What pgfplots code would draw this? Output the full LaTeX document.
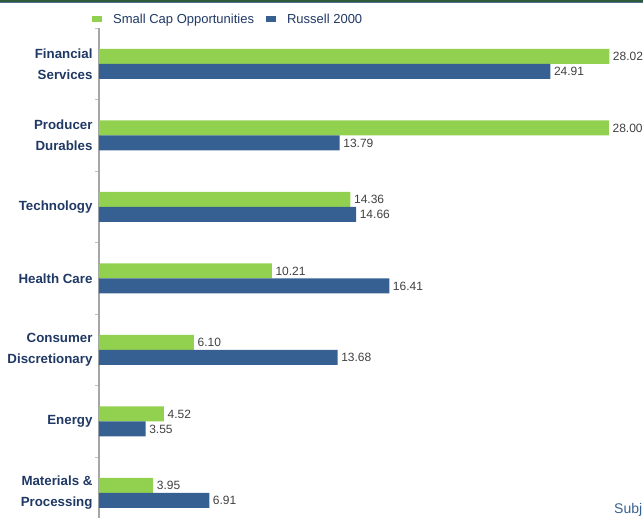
\documentclass[border=0pt]{standalone}
\usepackage{pgfplots}
\pgfplotsset{compat=1.18}
\usepackage{fontspec}
\setmainfont{Liberation Sans}
\definecolor{cgreen}{HTML}{92D050}
\definecolor{cblue}{HTML}{366092}
\definecolor{clab}{HTML}{1F3864}
\definecolor{cval}{HTML}{404040}
\definecolor{cborder}{HTML}{2E5A3C}
\definecolor{cborder2}{HTML}{4F6F8F}
\begin{document}
\begin{tikzpicture}[x=1pt,y=1pt]
\useasboundingbox (0,0) rectangle (643,-518);
\clip (0,0) rectangle (643,-518);
\fill[cborder] (0,0) rectangle (643,-2);
\fill[cborder2] (0,-2) rectangle (643,-3);
\begin{axis}[
  at={(99pt,-28.25pt)}, anchor=north west,
  scale only axis,
  width=544pt, height=500.5pt,
  xmin=1.09, xmax=29.8,
  ymin=-0.5, ymax=6.5,
  xbar, bar width=15pt,
  axis x line=none,
  axis y line*=left,
  axis line style={draw=gray!70, line width=1.2pt},
  ytick={0,...,6},
  yticklabels={{Materials \&\\Processing},Energy,{Consumer\\Discretionary},Health Care,Technology,{Producer\\Durables},{Financial\\Services}},
  yticklabel style={align=right, font=\fontsize{13.3}{21}\selectfont\bfseries, text=clab, xshift=-3pt},
  major tick length=0pt,
  minor ytick={-0.5,0.5,...,6.5},
  minor tick length=4pt,
  tick align=outside,
  minor tick style={gray!50, line width=0.8pt},
  /pgf/number format/assume math mode=true,
  nodes near coords,
  point meta=x,
  nodes near coords style={anchor=west, inner sep=3.5pt, font=\fontsize{12}{14}\selectfont, text=cval, /pgf/number format/.cd, fixed, fixed zerofill, precision=2},
  clip=false,
  legend columns=2,
  legend style={at={(axis description cs:0,1)}, anchor=west, xshift=-10pt, yshift=9pt, draw=none, fill=none, font=\fontsize{13}{15}\selectfont, text=clab,
    /tikz/every odd column/.append style={column sep=9pt},
    /tikz/every even column/.append style={column sep=10pt}},
  legend image code/.code={\fill[#1,draw=none] (0pt,-3pt) rectangle (10pt,3pt);},
]
\addplot[fill=cgreen, draw=none, bar shift=7.5pt] coordinates {
  (3.95,0) (4.52,1) (6.10,2) (10.21,3) (14.36,4) (28.00,5) (28.02,6)};
\addlegendentry{Small Cap Opportunities}
\addplot[fill=cblue, draw=none, bar shift=-7.5pt] coordinates {
  (6.91,0) (3.55,1) (13.68,2) (16.41,3) (14.66,4) (13.79,5) (24.91,6)};
\addlegendentry{Russell 2000}
\end{axis}
\node[anchor=base west, inner sep=0pt, text=cblue, font=\fontsize{14}{16}\selectfont] at (614,-514) {Subj};
\end{tikzpicture}
\end{document}
